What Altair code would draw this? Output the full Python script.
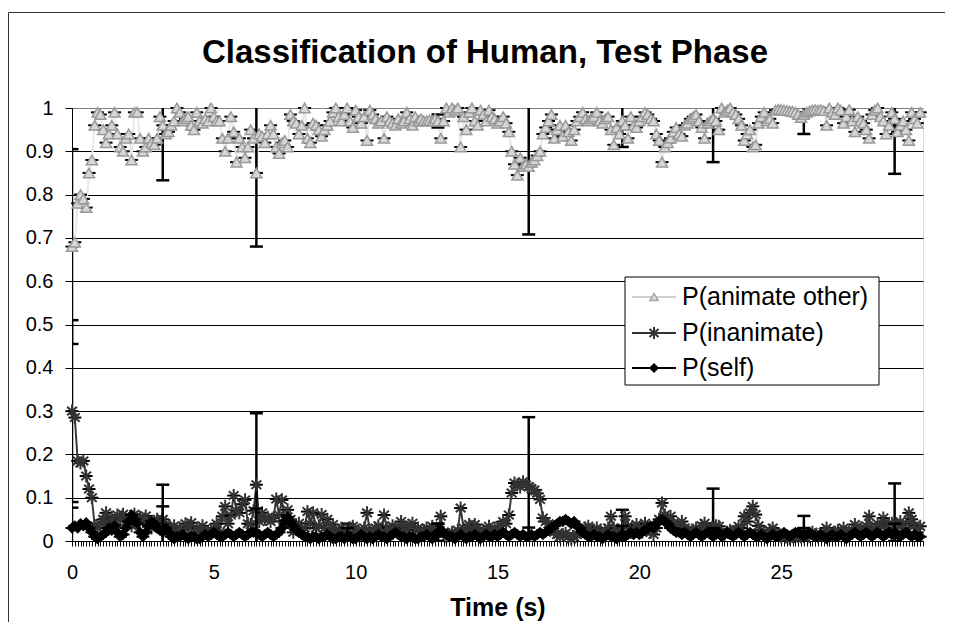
import altair as alt
import pandas as pd

# ---------------- data ----------------
TIME_STEP = 0.1
X_LABELS = [0, 5, 10, 15, 20, 25]
Y_TICKS = [0, 0.1, 0.2, 0.3, 0.4, 0.5, 0.6, 0.7, 0.8, 0.9, 1.0]
SERIES_NAMES = ["P(animate other)", "P(inanimate)", "P(self)"]
TITLE = "Classification of Human, Test Phase"
X_TITLE = "Time (s)"

P_ANIMATE = [
    0.68, 0.69, 0.78, 0.80, 0.79, 0.77, 0.85, 0.88, 0.96, 0.99,
    0.985, 0.95, 0.92, 0.94, 0.96, 0.99, 0.94, 0.91, 0.90, 0.93,
    0.94, 0.88, 0.99, 0.99, 0.93, 0.90, 0.91, 0.93, 0.92, 0.915,
    0.93, 0.98, 0.96, 0.94, 0.945, 0.96, 0.97, 1.00, 0.99, 0.97,
    0.975, 0.98, 0.96, 0.95, 0.99, 0.97, 0.965, 0.975, 0.97, 1.00,
    0.98, 0.97, 0.97, 0.93, 0.90, 0.93, 0.98, 0.945, 0.875, 0.93,
    0.91, 0.885, 0.91, 0.95, 0.93, 0.85, 0.94, 0.935, 0.92, 0.94,
    0.96, 0.94, 0.91, 0.895, 0.92, 0.925, 0.91, 0.985, 0.97, 0.965,
    0.94, 0.96, 1.00, 0.93, 0.92, 0.965, 0.96, 0.95, 0.935, 0.95,
    0.96, 0.97, 0.99, 1.00, 0.98, 0.97, 0.985, 1.00, 0.97, 0.955,
    0.995, 0.98, 0.965, 0.98, 0.925, 0.995, 0.985, 0.975, 0.965, 0.97,
    0.93, 0.98, 0.97, 0.965, 0.96, 0.975, 0.965, 0.97, 0.99, 0.975,
    0.96, 0.98, 0.97, 0.975, 0.97, 0.97, 0.972, 0.97, 0.975, 0.97,
    0.93, 0.97, 1.00, 0.99, 1.00, 0.995, 1.00, 0.91, 0.98, 0.95,
    0.99, 1.00, 0.97, 0.96, 0.995, 0.985, 0.97, 0.995, 0.98, 0.975,
    0.965, 0.97, 0.98, 0.965, 0.945, 0.90, 0.87, 0.845, 0.885, 0.865,
    0.87, 0.865, 0.875, 0.88, 0.89, 0.90, 0.94, 0.955, 0.97, 0.985,
    0.93, 0.95, 0.96, 0.935, 0.96, 0.945, 0.925, 0.95, 0.97, 0.98,
    0.99, 0.975, 0.97, 0.975, 0.98, 0.99, 0.97, 0.965, 0.975, 0.98,
    0.95, 0.915, 0.955, 0.94, 0.97, 0.96, 0.93, 0.98, 0.96, 0.955,
    0.97, 0.98, 0.99, 0.985, 0.975, 0.97, 0.94, 0.925, 0.875, 0.91,
    0.92, 0.93, 0.945, 0.955, 0.94, 0.935, 0.96, 0.965, 0.975, 0.98,
    0.985, 0.97, 0.955, 0.93, 0.965, 0.97, 0.975, 0.97, 0.95, 1.00,
    0.99, 0.995, 1.00, 0.99, 0.985, 0.975, 0.96, 0.925, 0.94, 0.95,
    0.91, 0.915, 0.965, 0.98, 0.99, 0.97, 0.975, 0.965, 0.995, 0.997,
    0.996, 0.995, 0.994, 0.993, 0.992, 0.99, 0.985, 0.978, 0.985, 0.99,
    0.993, 0.995, 0.996, 0.995, 0.996, 0.994, 0.96, 1.00, 0.99, 0.985,
    1.00, 0.995, 0.965, 0.98, 0.996, 0.97, 0.945, 0.98, 0.97, 0.965,
    0.95, 0.93, 0.985, 0.995, 1.00, 0.98, 0.97, 0.94, 0.96, 0.99,
    0.975, 0.945, 0.96, 0.97, 0.95, 0.925, 0.99, 0.975, 0.965, 0.99,
]

P_INANIMATE = [
    0.30, 0.285, 0.185, 0.18, 0.185, 0.15, 0.12, 0.10, 0.035, 0.03,
    0.04, 0.05, 0.065, 0.045, 0.055, 0.04, 0.06, 0.05, 0.062, 0.045,
    0.05, 0.035, 0.062, 0.05, 0.055, 0.045, 0.058, 0.04, 0.03, 0.045,
    0.05, 0.035, 0.05, 0.04, 0.025, 0.03, 0.035, 0.02, 0.03, 0.025,
    0.04, 0.03, 0.042, 0.02, 0.03, 0.025, 0.035, 0.02, 0.015, 0.025,
    0.03, 0.04, 0.02, 0.057, 0.08, 0.04, 0.06, 0.105, 0.07, 0.065,
    0.085, 0.095, 0.04, 0.038, 0.07, 0.13, 0.045, 0.065, 0.05, 0.055,
    0.045, 0.053, 0.097, 0.06, 0.095, 0.04, 0.072, 0.05, 0.02, 0.03,
    0.041, 0.025, 0.03, 0.068, 0.04, 0.065, 0.03, 0.035, 0.061, 0.03,
    0.05, 0.025, 0.038, 0.02, 0.025, 0.03, 0.015, 0.02, 0.03, 0.034,
    0.02, 0.025, 0.015, 0.03, 0.065, 0.025, 0.02, 0.03, 0.035, 0.02,
    0.06, 0.03, 0.025, 0.035, 0.03, 0.02, 0.045, 0.03, 0.025, 0.035,
    0.041, 0.025, 0.03, 0.02, 0.025, 0.03, 0.02, 0.034, 0.025, 0.02,
    0.057, 0.02, 0.01, 0.015, 0.02, 0.015, 0.025, 0.076, 0.03, 0.025,
    0.038, 0.02, 0.038, 0.03, 0.015, 0.025, 0.02, 0.034, 0.02, 0.03,
    0.025, 0.035, 0.045, 0.04, 0.06, 0.111, 0.134, 0.13, 0.125, 0.137,
    0.13, 0.126, 0.12, 0.118, 0.11, 0.096, 0.053, 0.045, 0.04, 0.03,
    0.02, 0.015, 0.01, 0.015, 0.018, 0.01, 0.005, 0.01, 0.015, 0.02,
    0.025, 0.03, 0.034, 0.02, 0.025, 0.03, 0.02, 0.015, 0.025, 0.03,
    0.057, 0.03, 0.025, 0.02, 0.03, 0.057, 0.035, 0.02, 0.025, 0.038,
    0.03, 0.02, 0.041, 0.03, 0.02, 0.015, 0.03, 0.05, 0.088, 0.06,
    0.045, 0.057, 0.04, 0.035, 0.03, 0.045, 0.03, 0.025, 0.02, 0.025,
    0.03, 0.02, 0.035, 0.041, 0.03, 0.025, 0.03, 0.035, 0.034, 0.02,
    0.015, 0.02, 0.025, 0.02, 0.025, 0.034, 0.03, 0.057, 0.045, 0.065,
    0.08, 0.061, 0.035, 0.025, 0.02, 0.015, 0.025, 0.03, 0.02, 0.015,
    0.01, 0.015, 0.01, 0.005, 0.01, 0.015, 0.01, 0.01, 0.01, 0.015,
    0.01, 0.02, 0.015, 0.01, 0.015, 0.02, 0.03, 0.02, 0.015, 0.02,
    0.025, 0.02, 0.03, 0.02, 0.025, 0.02, 0.038, 0.025, 0.03, 0.02,
    0.035, 0.057, 0.03, 0.025, 0.04, 0.035, 0.053, 0.03, 0.04, 0.041,
    0.03, 0.035, 0.045, 0.03, 0.04, 0.065, 0.05, 0.035, 0.02, 0.034,
]

P_SELF = [
    0.03, 0.035, 0.03, 0.04, 0.035, 0.042, 0.03, 0.02, 0.01, 0.005,
    0.01, 0.015, 0.02, 0.03, 0.025, 0.035, 0.02, 0.01, 0.015, 0.03,
    0.045, 0.06, 0.05, 0.04, 0.02, 0.01, 0.02, 0.035, 0.045, 0.04,
    0.03, 0.025, 0.02, 0.03, 0.02, 0.01, 0.005, 0.01, 0.01, 0.015,
    0.01, 0.005, 0.01, 0.01, 0.005, 0.005, 0.01, 0.015, 0.01, 0.015,
    0.02, 0.015, 0.01, 0.01, 0.015, 0.02, 0.015, 0.01, 0.015, 0.02,
    0.015, 0.01, 0.015, 0.02, 0.02, 0.02, 0.015, 0.01, 0.015, 0.02,
    0.015, 0.01, 0.015, 0.02, 0.03, 0.045, 0.055, 0.045, 0.035, 0.025,
    0.02, 0.015, 0.01, 0.01, 0.005, 0.01, 0.01, 0.005, 0.01, 0.01,
    0.015, 0.01, 0.005, 0.005, 0.01, 0.01, 0.005, 0.01, 0.01, 0.005,
    0.005, 0.01, 0.015, 0.01, 0.005, 0.01, 0.005, 0.01, 0.015, 0.01,
    0.01, 0.005, 0.01, 0.015, 0.02, 0.015, 0.01, 0.01, 0.005, 0.01,
    0.01, 0.005, 0.005, 0.01, 0.01, 0.015, 0.01, 0.005, 0.01, 0.02,
    0.025, 0.02, 0.015, 0.01, 0.01, 0.005, 0.01, 0.015, 0.01, 0.005,
    0.01, 0.01, 0.015, 0.01, 0.005, 0.01, 0.015, 0.01, 0.01, 0.015,
    0.01, 0.015, 0.02, 0.015, 0.01, 0.015, 0.02, 0.015, 0.01, 0.015,
    0.01, 0.01, 0.015, 0.01, 0.015, 0.02, 0.015, 0.02, 0.025, 0.03,
    0.035, 0.04, 0.045, 0.045, 0.05, 0.045, 0.04, 0.045, 0.035, 0.03,
    0.02, 0.015, 0.01, 0.01, 0.015, 0.01, 0.01, 0.005, 0.01, 0.015,
    0.01, 0.01, 0.005, 0.01, 0.015, 0.01, 0.015, 0.02, 0.015, 0.02,
    0.015, 0.02, 0.025, 0.03, 0.035, 0.03, 0.04, 0.045, 0.05, 0.045,
    0.04, 0.03, 0.025, 0.02, 0.02, 0.015, 0.02, 0.015, 0.01, 0.015,
    0.02, 0.015, 0.01, 0.015, 0.02, 0.015, 0.01, 0.015, 0.02, 0.01,
    0.015, 0.02, 0.015, 0.01, 0.015, 0.02, 0.015, 0.01, 0.015, 0.02,
    0.015, 0.01, 0.01, 0.015, 0.01, 0.005, 0.01, 0.015, 0.01, 0.01,
    0.015, 0.02, 0.015, 0.01, 0.015, 0.02, 0.02, 0.015, 0.01, 0.015,
    0.02, 0.015, 0.01, 0.01, 0.015, 0.01, 0.005, 0.01, 0.015, 0.01,
    0.01, 0.015, 0.01, 0.005, 0.01, 0.015, 0.02, 0.015, 0.01, 0.015,
    0.02, 0.015, 0.01, 0.015, 0.02, 0.015, 0.01, 0.015, 0.02, 0.015,
    0.02, 0.015, 0.01, 0.015, 0.02, 0.015, 0.01, 0.015, 0.01, 0.01,
]

# sample indices carrying a visible error bar, and the half-widths of those bars
ERR_INDEX = [0, 32, 65, 97, 129, 161, 194, 226, 258, 290]
ERR_ANIMATE = [0.225, 0.127, 0.17, 0.012, 0.015, 0.157, 0.06, 0.10, 0.045, 0.127]
ERR_INANIMATE = [0.21, 0.08, 0.165, 0.02, 0.02, 0.16, 0.042, 0.091, 0.048, 0.103]
ERR_SELF = [0.047, 0.06, 0.055, 0.02, 0.02, 0.021, 0.02, 0.02, 0.02, 0.02]

# ---------------- chart ----------------
FONT = "Liberation Sans"
n = len(P_ANIMATE)
times = [round(i * TIME_STEP, 1) for i in range(n)]
x_tick_values = [round(i * TIME_STEP, 1) for i in range(n + 1)]

x_axis = alt.Axis(
    values=x_tick_values,
    labelExpr=f"indexof({X_LABELS}, round(datum.value * 10) / 10) >= 0 ? format(datum.value, 'd') : ''",
    labelOverlap=False, labelFlush=False, labelBound=False,
    tickSize=5, tickColor="black", tickWidth=1,
    domainColor="black", domainWidth=1,
    labelFontSize=20, labelFont=FONT, labelColor="black", labelPadding=16,
    grid=False,
    titleFontSize=25, titleFont=FONT, titleFontWeight="bold", titleColor="black",
    titleBaseline="alphabetic", titleY=74,
)
y_axis = alt.Axis(
    values=Y_TICKS, format=".1~f",
    tickSize=7, tickColor="black", tickWidth=1,
    domainColor="black", domainWidth=1,
    labelFontSize=20, labelFont=FONT, labelColor="black", labelPadding=12,
    grid=True, gridWidth=1,
    gridColor={"condition": {"test": "datum.value >= 0.999", "value": "#808080"}, "value": "#000000"},
)


def X(field="t"):
    return alt.X(f"{field}:Q", scale=alt.Scale(domain=[0, 30], nice=False, zero=False),
                 axis=x_axis, title=X_TITLE)


def Y(field="v"):
    return alt.Y(f"{field}:Q", scale=alt.Scale(domain=[0, 1], nice=False, zero=False),
                 axis=y_axis, title=None)


def series_layers(values, errs, line_kw, point_kw):
    df = pd.DataFrame({"t": times, "v": values})
    edf = pd.DataFrame({
        "t": [times[i] for i in ERR_INDEX],
        "lo": [values[i] - e for i, e in zip(ERR_INDEX, errs)],
        "hi": [values[i] + e for i, e in zip(ERR_INDEX, errs)],
    })
    line = alt.Chart(df).mark_line(**line_kw).encode(x=X(), y=Y())
    bars = alt.Chart(edf).mark_rule(color="black", strokeWidth=2.5, clip=True).encode(
        x=X(), y=Y("lo"), y2="hi")
    cap_lo = alt.Chart(edf).mark_tick(orient="horizontal", color="black", size=13,
                                      thickness=2.5, opacity=1, clip=True).encode(x=X(), y=Y("lo"))
    cap_hi = alt.Chart(edf).mark_tick(orient="horizontal", color="black", size=13,
                                      thickness=2.5, opacity=1, clip=True).encode(x=X(), y=Y("hi"))
    pt_caps = alt.Chart(df).mark_tick(orient="horizontal", color="black", size=13,
                                      thickness=2, opacity=1).encode(x=X(), y=Y())
    pts = alt.Chart(df).mark_point(opacity=1, **point_kw).encode(x=X(), y=Y())
    return [line, bars, cap_lo, cap_hi, pt_caps, pts]


ASTERISK = "M0,-1L0,1M-0.75,-0.65L0.75,0.65M-0.75,0.65L0.75,-0.65"

STYLE_ANIMATE = (dict(color="#E8E8E8", strokeWidth=2),
                 dict(shape="triangle-up", size=121, filled=True, fill="#D6D6D6",
                      stroke="#999999", strokeWidth=1.5))
STYLE_INANIMATE = (dict(color="#3A3A3A", strokeWidth=2),
                   dict(shape=ASTERISK, size=169, filled=False, color="#333333", strokeWidth=2))
STYLE_SELF = (dict(color="#000000", strokeWidth=4),
              dict(shape="diamond", size=130, filled=True, color="#000000"))

one = pd.DataFrame({"k": [0]})

# chart-area frame (Excel chart border; its right and bottom edges lie outside the picture)
frame_top = alt.Chart(one).mark_rule(color="#333333", strokeWidth=1).encode(
    x=alt.value(-63.5), x2=alt.value(900), y=alt.value(-95.5))
frame_left = alt.Chart(one).mark_rule(color="#333333", strokeWidth=1).encode(
    x=alt.value(-63.5), y=alt.value(-95.5), y2=alt.value(600))

# chart title drawn as a text mark (centred over the whole chart area)
title = alt.Chart(pd.DataFrame({"title": [TITLE]})).mark_text(
    align="center", baseline="alphabetic", fontSize=33, fontWeight="bold",
    font=FONT, color="black").encode(x=alt.value(413), y=alt.value(-45), text="title:N")

layers = [frame_top, frame_left, title]
layers += series_layers(P_ANIMATE, ERR_ANIMATE, *STYLE_ANIMATE)
layers += series_layers(P_INANIMATE, ERR_INANIMATE, *STYLE_INANIMATE)
layers += series_layers(P_SELF, ERR_SELF, *STYLE_SELF)

# legend box
layers.append(alt.Chart(one).mark_rect(fill="white", stroke="black", strokeWidth=1).encode(
    x=alt.value(553), x2=alt.value(807), y=alt.value(169), y2=alt.value(277)))
legend_rows = [189, 225, 260]
legend_styles = [
    (dict(color="#D0D0D0", strokeWidth=2),
     dict(shape="triangle-up", size=70, filled=True, fill="#DCDCDC", stroke="#A8A8A8", strokeWidth=1.5)),
    (dict(color="#333333", strokeWidth=2),
     dict(shape=ASTERISK, size=144, filled=False, color="#333333", strokeWidth=2)),
    (dict(color="#000000", strokeWidth=2),
     dict(shape="diamond", size=100, filled=True, color="#000000")),
]
for name, ly, (lkw, pkw) in zip(SERIES_NAMES, legend_rows, legend_styles):
    ldf = pd.DataFrame({"name": [name]})
    layers.append(alt.Chart(ldf).mark_rule(**lkw).encode(
        x=alt.value(560), x2=alt.value(604), y=alt.value(ly)))
    layers.append(alt.Chart(ldf).mark_point(opacity=1, **pkw).encode(
        x=alt.value(582), y=alt.value(ly)))
    layers.append(alt.Chart(ldf).mark_text(align="left", baseline="middle", fontSize=25,
                                           font=FONT, color="black").encode(
        x=alt.value(610), y=alt.value(ly), text="name:N"))

chart = alt.layer(*layers).properties(
    width=851, height=433,
    autosize=alt.AutoSizeParams(type="none"),
    padding={"left": 64, "top": 100, "right": 22, "bottom": 81},
).configure_view(fill="#C0C0C0", stroke="#808080", strokeWidth=1).configure(background="white")

chart.save("out.html", embed_options={"renderer": "svg", "actions": False})
